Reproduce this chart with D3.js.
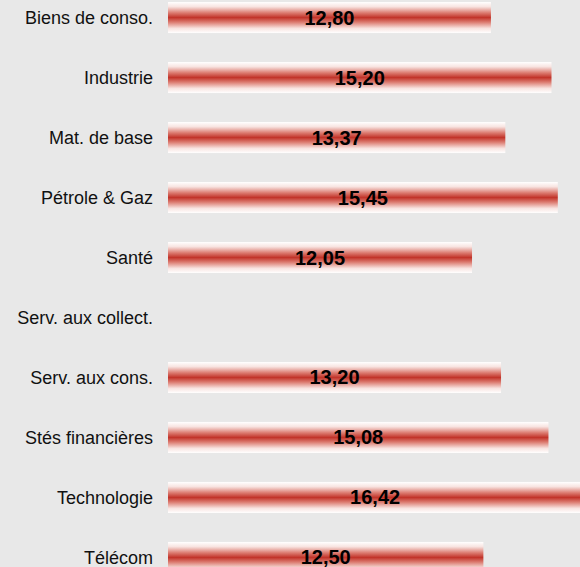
<!DOCTYPE html>
<html>
<head>
<meta charset="utf-8">
<script src="https://cdn.jsdelivr.net/npm/d3@7"></script>
<style>
html,body{margin:0;padding:0;background:#e8e8e8;}
svg{display:block;}
</style>
</head>
<body>
<svg id="chart" width="580" height="567"></svg>
<script>
const categories = ["Biens de conso.","Industrie","Mat. de base","Pétrole & Gaz","Santé","Serv. aux collect.","Serv. aux cons.","Stés financières","Technologie","Télécom"];
const values = [12.80,15.20,13.37,15.45,12.05,null,13.20,15.08,16.42,12.50];

const W = 580, H = 567;
const svg = d3.select("#chart");
svg.append("rect").attr("width",W).attr("height",H).attr("fill","#e8e8e8");

const defs = svg.append("defs");
const grad = defs.append("linearGradient").attr("id","barGrad")
  .attr("x1","0").attr("y1","0").attr("x2","0").attr("y2","1");
[[0,"#ffffff"],[0.15,"#f8e4e1"],[0.35,"#dc7b70"],[0.5,"#c2342a"],[0.65,"#dc7b70"],[0.85,"#f8e4e1"],[1,"#ffffff"]]
  .forEach(([o,c])=>grad.append("stop").attr("offset",o).attr("stop-color",c));

const x = d3.scaleLinear().domain([0,1]).range([168,168+25.23]);
const y = d3.scaleBand().domain(categories).range([-12.5, 587.5]).paddingInner(0.483).paddingOuter(0.242);

const data = categories.map((c,i)=>({c, v: values[i]}));

svg.selectAll("text.cat").data(data).enter().append("text")
  .attr("class","cat")
  .attr("x",153)
  .attr("y",d=>y(d.c)+y.bandwidth()/2)
  .attr("dy","0.35em")
  .attr("text-anchor","end")
  .attr("font-family","Liberation Sans, Arial, sans-serif")
  .attr("font-size",18)
  .attr("fill","#111")
  .text(d=>d.c);

const bars = data.filter(d=>d.v!=null);
svg.selectAll("rect.bar").data(bars).enter().append("rect")
  .attr("class","bar")
  .attr("x",x(0))
  .attr("y",d=>y(d.c))
  .attr("width",d=>x(d.v)-x(0))
  .attr("height",y.bandwidth())
  .attr("fill","url(#barGrad)");

const fmt = v => v.toFixed(2).replace(".",",");
svg.selectAll("text.val").data(bars).enter().append("text")
  .attr("class","val")
  .attr("x",d=>(x(0)+x(d.v))/2)
  .attr("y",d=>y(d.c)+y.bandwidth()/2)
  .attr("dy","0.35em")
  .attr("text-anchor","middle")
  .attr("font-family","Liberation Sans, Arial, sans-serif")
  .attr("font-weight","bold")
  .attr("font-size",20)
  .attr("fill","#000")
  .text(d=>fmt(d.v));
</script>
</body>
</html>
